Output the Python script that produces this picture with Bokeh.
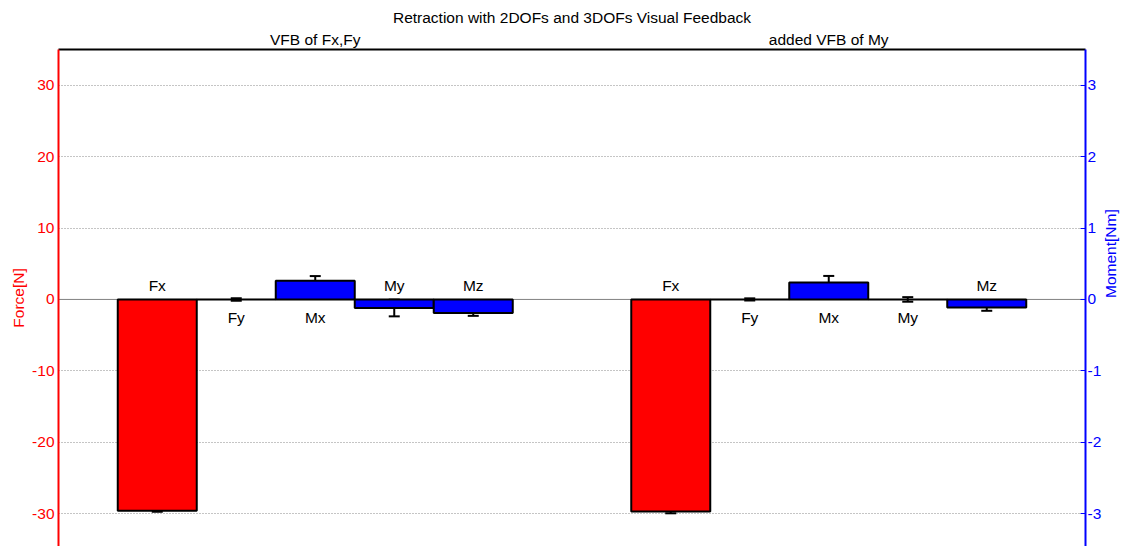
import math
from bokeh.plotting import figure
from bokeh.models import (ColumnDataSource, Range1d, LinearAxis, FixedTicker,
                          Whisker, TeeHead, Span)
from bokeh.core.properties import value
from bokeh.embed import file_html
from bokeh.resources import INLINE

# ---- data -------------------------------------------------------------
title_text = "Retraction with 2DOFs and 3DOFs Visual Feedback"
conditions = ["VFB of Fx,Fy", "added VFB of My"]
components = ["Fx", "Fy", "Mx", "My", "Mz"]
is_moment = [False, False, True, True, True]

# mean values: forces in N, moments in Nm
means_vfb_fxfy = [-29.6, 0.0, 0.26, -0.12, -0.19]
means_added_my = [-29.7, 0.0, 0.238, 0.0, -0.112]
# error bar half-lengths
err_vfb_fxfy = [0.15, 0.18, 0.067, 0.117, 0.04]
err_added_my = [0.25, 0.15, 0.091, 0.032, 0.047]

force_ticks = [-30, -20, -10, 0, 10, 20, 30]
moment_ticks = [-3, -2, -1, 0, 1, 2, 3]

# ---- layout helpers ---------------------------------------------------
FONT = "Liberation Sans"
FS = "15.5px"
GROUP_GAP = 6.5

all_means = [means_vfb_fxfy, means_added_my]
all_errs = [err_vfb_fxfy, err_added_my]

rows = dict(x=[], top=[], err_lo=[], err_hi=[], color=[], label=[], moment=[])
for g, (m, e) in enumerate(zip(all_means, all_errs)):
    for k, comp in enumerate(components):
        rows["x"].append(1 + k + g * GROUP_GAP)
        rows["top"].append(m[k])
        rows["err_lo"].append(m[k] - e[k])
        rows["err_hi"].append(m[k] + e[k])
        rows["color"].append("#0000ff" if is_moment[k] else "#ff0000")
        rows["label"].append(comp)
        rows["moment"].append(is_moment[k])

def subset(flag):
    idx = [i for i, mm in enumerate(rows["moment"]) if mm == flag]
    return ColumnDataSource({k: [v[i] for i in idx] for k, v in rows.items()})

src_force = subset(False)
src_moment = subset(True)

lab_offsets = [-14 if t < 0 else 18 for t in rows["top"]]
src_labels = ColumnDataSource(dict(x=rows["x"], y=[0] * len(rows["x"]),
                                   text=rows["label"], yoff=lab_offsets))

x_lo = 1 - 1.25
x_hi = 1 + (len(components) - 1) + GROUP_GAP + 1.25
group_centers = [1 + (len(components) - 1) / 2 + g * GROUP_GAP
                 for g in range(len(conditions))]

p = figure(width=1130, height=546, output_backend="svg", toolbar_location=None,
           x_range=Range1d(x_lo, x_hi), y_range=Range1d(-34.6, 35),
           min_border_left=58, min_border_right=44, min_border_top=49,
           min_border_bottom=0, x_axis_location=None, y_axis_location=None,
           title=title_text)
p.extra_y_ranges = {"moment": Range1d(-3.46, 3.5)}
p.outline_line_color = None
p.background_fill_color = "white"
p.border_fill_color = "white"

p.title.align = "center"
p.title.text_font = FONT
p.title.text_font_size = FS
p.title.text_font_style = "normal"
p.title.text_color = "black"
p.title.standoff = 3

def hyphen(ticks):
    return {t: str(t) for t in ticks}

# top axis: group captions + black top border
ta = LinearAxis(ticker=FixedTicker(ticks=group_centers),
                major_label_overrides={c: n for c, n in zip(group_centers, conditions)})
ta.axis_line_color = "black"
ta.axis_line_width = 2
ta.major_tick_line_color = None
ta.minor_tick_line_color = None
ta.major_tick_out = 0
ta.major_tick_in = 0
ta.major_label_standoff = 2
ta.major_label_text_font = FONT
ta.major_label_text_font_size = FS
ta.major_label_text_color = "black"
p.add_layout(ta, "above")

# left axis (force)
la = LinearAxis(ticker=FixedTicker(ticks=force_ticks), axis_label="Force[N]",
                major_label_overrides=hyphen(force_ticks))
la.axis_line_color = "#ff0000"
la.axis_line_width = 2
la.major_tick_line_color = None
la.minor_tick_line_color = None
la.major_tick_out = 0
la.major_tick_in = 0
la.major_label_standoff = 4
la.major_label_text_color = "#ff0000"
la.major_label_text_font = FONT
la.major_label_text_font_size = FS
la.axis_label_text_color = "#ff0000"
la.axis_label_text_font = FONT
la.axis_label_text_font_size = FS
la.axis_label_text_font_style = "normal"
la.axis_label_standoff = 2
p.add_layout(la, "left")

# right axis (moment)
ra = LinearAxis(y_range_name="moment", ticker=FixedTicker(ticks=moment_ticks),
                axis_label="Moment[Nm]",
                major_label_overrides=hyphen(moment_ticks))
ra.axis_line_color = "#0000ff"
ra.axis_line_width = 2
ra.major_tick_line_color = "#0000ff"
ra.major_tick_line_width = 1
ra.major_tick_in = 5
ra.major_tick_out = 0
ra.minor_tick_line_color = None
ra.major_label_standoff = 2
ra.major_label_text_color = "#0000ff"
ra.major_label_text_font = FONT
ra.major_label_text_font_size = FS
ra.axis_label_text_color = "#0000ff"
ra.axis_label_text_font = FONT
ra.axis_label_text_font_size = FS
ra.axis_label_text_font_style = "normal"
ra.axis_label_standoff = 6
try:
    ra.axis_label_orientation = math.pi / 2
except Exception:
    pass
p.add_layout(ra, "right")

# grid
p.xgrid.visible = False
p.ygrid.ticker = FixedTicker(ticks=[t for t in force_ticks if t != 0])
p.ygrid.grid_line_color = "#8a8a8a"
p.ygrid.grid_line_dash = "1 2"
p.ygrid.grid_line_width = 1

# zero line
p.add_layout(Span(location=0, dimension="width", line_color="#808080",
                  line_width=1, level="underlay"))

# bars
p.vbar(x="x", top="top", bottom=0, width=1, source=src_force,
       fill_color="color", line_color="black", line_width=2)
p.vbar(x="x", top="top", bottom=0, width=1, source=src_moment,
       fill_color="color", line_color="black", line_width=2,
       y_range_name="moment")

# error bars
for src, rn in ((src_force, "default"), (src_moment, "moment")):
    w = Whisker(base="x", lower="err_lo", upper="err_hi", source=src,
                y_range_name=rn, line_color="black", line_width=2,
                upper_head=TeeHead(size=11, line_width=2, line_color="black"),
                lower_head=TeeHead(size=11, line_width=2, line_color="black"))
    p.add_layout(w)

# component labels
p.text(x="x", y="y", text="text", y_offset="yoff", source=src_labels,
       text_align="center", text_baseline="middle",
       text_font=value(FONT), text_font_size=value(FS), text_color="black")

open("out.html", "w").write(file_html(p, INLINE))
